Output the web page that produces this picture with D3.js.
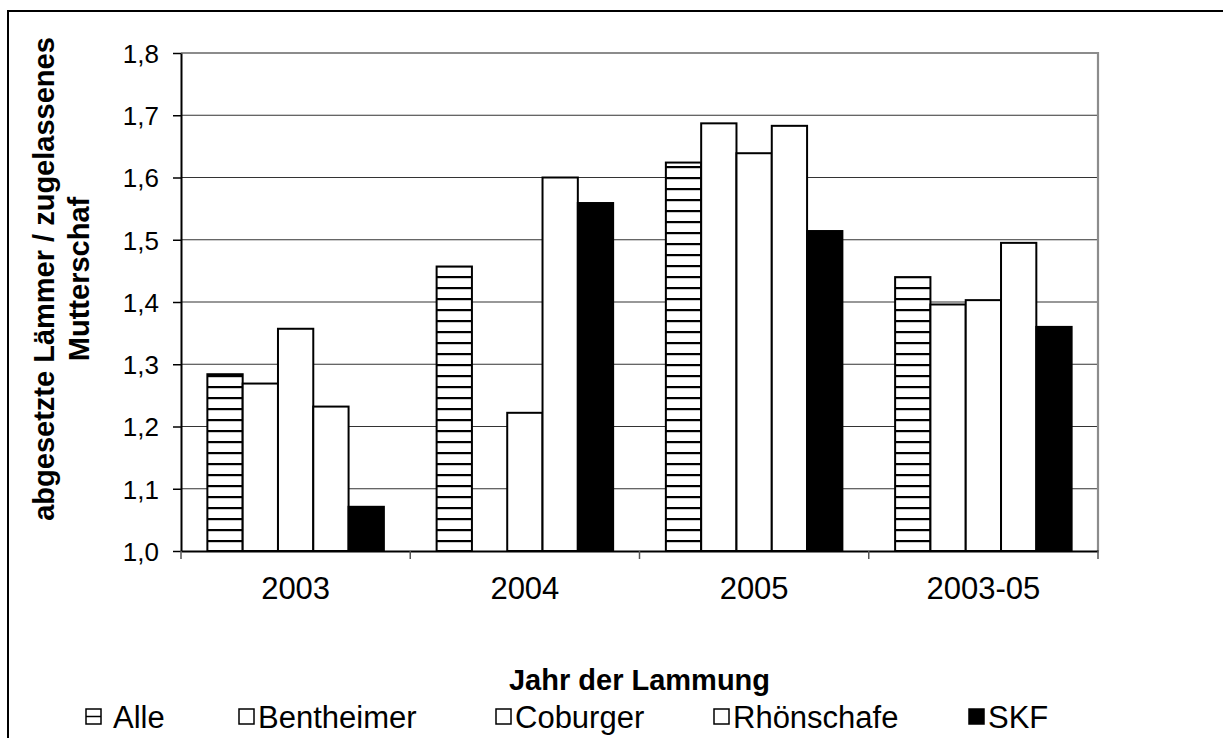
<!DOCTYPE html>
<html>
<head>
<meta charset="utf-8">
<script src="https://cdn.jsdelivr.net/npm/d3@7/dist/d3.min.js"></script>
<style>
  html, body { margin: 0; padding: 0; background: #fff; }
  svg { display: block; }
  text { font-family: "Liberation Sans", Arial, sans-serif; fill: #000; }
</style>
</head>
<body>
<svg id="chart" width="1223" height="738"></svg>
<script>
// Abgesetzte Lämmer je zugelassenem Mutterschaf, nach Rasse und Lammjahr
const categories = ["2003", "2004", "2005", "2003-05"];
const seriesNames = ["Alle", "Bentheimer", "Coburger", "Rhönschafe", "SKF"];
const alle       = [1.284, 1.457, 1.624, 1.440];
const bentheimer = [1.269, null,  1.687, 1.396];
const coburger   = [1.357, 1.222, 1.639, 1.403];
const rhoen      = [1.232, 1.600, 1.683, 1.495];
const skf        = [1.071, 1.559, 1.514, 1.360];
const yTicks = [1.0, 1.1, 1.2, 1.3, 1.4, 1.5, 1.6, 1.7, 1.8];
const yTitleLines = ["abgesetzte Lämmer / zugelassenes", "Mutterschaf"];
const xTitle = "Jahr der Lammung";

const seriesValues = [alle, bentheimer, coburger, rhoen, skf];
const fills = ["url(#stripes)", "#fff", "#fff", "#fff", "#000"];

const svg = d3.select("#chart");

// horizontal stripe pattern for "Alle"
const defs = svg.append("defs");
const pat = defs.append("pattern")
  .attr("id", "stripes").attr("patternUnits", "userSpaceOnUse")
  .attr("width", 12).attr("height", 11).attr("y", 551);
pat.append("rect").attr("width", 12).attr("height", 11).attr("fill", "#fff");
pat.append("rect").attr("y", 0).attr("width", 12).attr("height", 2.2).attr("fill", "#000");

// outer frame
svg.append("rect")
  .attr("x", 8).attr("y", 11).attr("width", 1300).attr("height", 800)
  .attr("fill", "none").attr("stroke", "#000").attr("stroke-width", 2);

const plotL = 181, plotR = 1098, plotT = 53, plotB = 551;

const x0 = d3.scaleBand().domain(categories).range([plotL, plotR]).paddingInner(0).paddingOuter(0);
const x1 = d3.scaleBand().domain(seriesNames).range([0, x0.bandwidth()])
  .paddingInner(0).paddingOuter(0.747);
const y = d3.scaleLinear().domain([1.0, 1.8]).range([plotB, plotT]);

// gridlines
svg.append("g")
  .selectAll("line")
  .data(yTicks.filter(v => v > 1.0 && v < 1.8))
  .join("line")
  .attr("x1", plotL).attr("x2", plotR)
  .attr("y1", d => y(d)).attr("y2", d => y(d))
  .attr("stroke", "#333").attr("stroke-width", 1.2);

// plot area border (top + right)
svg.append("path")
  .attr("d", `M${plotL},${y(1.8)}H${plotR}V${plotB}`)
  .attr("fill", "none").attr("stroke", "#8c8c8c").attr("stroke-width", 2.2);

// bars
const groups = svg.append("g").selectAll("g")
  .data(categories)
  .join("g")
  .attr("transform", d => `translate(${x0(d)},0)`);

groups.selectAll("rect")
  .data((c, ci) => seriesNames.map((s, si) => ({ s, si, v: seriesValues[si][ci] }))
    .filter(d => d.v != null))
  .join("rect")
  .attr("x", d => x1(d.s))
  .attr("width", x1.bandwidth())
  .attr("y", d => y(d.v))
  .attr("height", d => y(1.0) - y(d.v))
  .attr("fill", d => fills[d.si])
  .attr("stroke", "#000").attr("stroke-width", 2);

// y axis
const fmt = d => d3.format(".1f")(d).replace(".", ",");
const yAxis = svg.append("g")
  .attr("transform", `translate(${plotL},0)`)
  .call(d3.axisLeft(y).tickValues(yTicks).tickFormat(fmt).tickSize(8).tickSizeOuter(0).tickPadding(14));
yAxis.select(".domain").attr("stroke", "#000").attr("stroke-width", 2);
yAxis.selectAll(".tick line").attr("stroke", "#000").attr("stroke-width", 1.5);
yAxis.selectAll("text").style("font-size", "26px").attr("dy", "0.36em");

// x axis
const xAxis = svg.append("g")
  .attr("transform", `translate(0,${plotB})`)
  .call(d3.axisBottom(x0).tickSize(0).tickSizeOuter(0).tickPadding(0));
xAxis.select(".domain").attr("stroke", "#000").attr("stroke-width", 2);
xAxis.selectAll("text").style("font-size", "31px").attr("y", 48).attr("dy", 0);

// category separators below the axis
const bounds = categories.map(c => x0(c)).concat([plotR]);
svg.append("g").selectAll("line")
  .data(bounds)
  .join("line")
  .attr("x1", d => d).attr("x2", d => d)
  .attr("y1", plotB).attr("y2", plotB + 8)
  .attr("stroke", "#555").attr("stroke-width", 1.5);

// axis titles
svg.append("text")
  .attr("x", (plotL + plotR) / 2).attr("y", 690)
  .attr("text-anchor", "middle")
  .style("font-size", "29px").style("font-weight", "bold")
  .text(xTitle);

const yTitle = svg.append("text")
  .attr("transform", `translate(0,${(plotT + plotB) / 2 - 23}) rotate(-90)`)
  .attr("text-anchor", "middle")
  .style("font-size", "29px").style("font-weight", "bold");
yTitle.selectAll("tspan")
  .data(yTitleLines)
  .join("tspan")
  .attr("x", 0)
  .attr("y", (d, i) => 54 + i * 35)
  .text(d => d);

// legend
const legTextX = [113, 258, 515, 733, 988];
const legY = 728;
const box = 15;
const leg = svg.append("g").selectAll("g")
  .data(seriesNames)
  .join("g")
  .attr("transform", (d, i) => `translate(${legTextX[i]},${legY})`);
leg.append("rect")
  .attr("x", (d, i) => i === 0 ? -27 : -19).attr("y", -19)
  .attr("width", box).attr("height", box)
  .attr("fill", (d, i) => i === 4 ? "#000" : "#fff")
  .attr("stroke", "#000").attr("stroke-width", 1.5);
leg.filter((d, i) => i === 0).append("line")
  .attr("x1", -27).attr("x2", -27 + box)
  .attr("y1", -19 + box / 2).attr("y2", -19 + box / 2)
  .attr("stroke", "#000").attr("stroke-width", 1.5);
leg.append("text")
  .attr("x", 0).attr("y", 0)
  .style("font-size", "31px")
  .text(d => d);
</script>
</body>
</html>
